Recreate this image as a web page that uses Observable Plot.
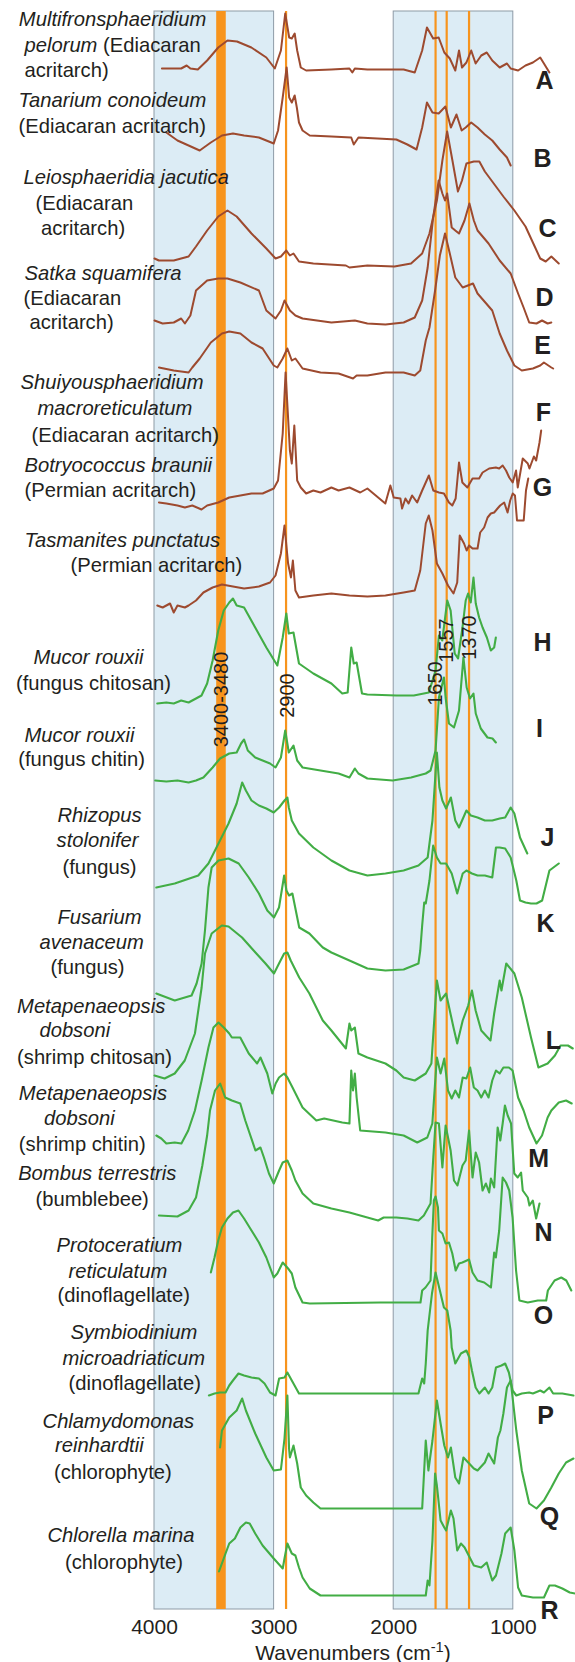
<!DOCTYPE html>
<html><head><meta charset="utf-8">
<script src="https://cdn.jsdelivr.net/npm/d3@7"></script>
<script src="https://cdn.jsdelivr.net/npm/@observablehq/plot@0.6"></script>
<style>html,body{margin:0;padding:0;background:#fff;}</style>
</head><body><div id="chart"></div>
<script>
// ---------- DATA ----------
// Each spectrum: [wavenumber (cm-1), relative absorbance]
const specA = [[3938,2],[3777,2],[3731,5],[3700,2],[3638,1],[3560,10],[3467,23],[3390,30],[3310,29],[3190,23],[3065,13],[2994,2],[2943,20],[2907,57],[2874,33],[2852,32],[2828,37],[2807,20],[2777,3],[2732,0],[2521,1],[2370,2],[2346,-2],[2325,2],[2220,1],[1917,1],[1824,-2],[1762,20],[1722,43],[1670,32],[1624,33],[1577,18],[1531,12],[1485,0],[1454,20],[1429,3],[1392,8],[1352,20],[1315,7],[1268,15],[1222,18],[1176,10],[1114,3],[1053,7],[1022,2],[960,0],[898,5],[836,8],[775,13],[744,7],[698,-2]];
const specB = [[3901,10],[3808,2],[3715,-3],[3622,-8],[3529,0],[3436,7],[3344,9],[3251,7],[3127,5],[3003,-1],[2967,12],[2928,45],[2895,75],[2874,45],[2852,40],[2828,47],[2810,35],[2792,20],[2762,12],[2702,7],[2521,6],[2355,5],[2334,-2],[2295,5],[1978,3],[1886,-2],[1809,-7],[1762,15],[1722,40],[1676,30],[1624,29],[1568,36],[1522,15],[1475,28],[1432,12],[1398,15],[1352,20],[1299,15],[1238,8],[1176,2],[1114,-7],[1053,-15],[1022,-23]];
const specC = [[4000,5],[3963,3],[3839,3],[3715,7],[3653,17],[3560,33],[3467,47],[3390,53],[3313,47],[3189,30],[3065,15],[2988,5],[2943,7],[2898,13],[2868,8],[2838,10],[2792,2],[2672,0],[2400,-2],[2370,-4],[2220,-2],[1994,-3],[1855,0],[1762,10],[1701,30],[1639,63],[1593,103],[1553,132],[1509,103],[1463,72],[1429,83],[1392,100],[1330,102],[1284,102],[1238,92],[1176,82],[1083,67],[991,53],[898,37],[821,17],[775,5],[729,2],[682,7],[620,0]];
const specD = [[4000,2],[3932,-1],[3839,0],[3777,4],[3746,-1],[3700,7],[3653,32],[3560,42],[3467,44],[3390,44],[3282,40],[3127,32],[3065,12],[2988,4],[2943,12],[2913,22],[2868,12],[2822,7],[2762,4],[2521,0],[2325,2],[2220,-1],[2069,-2],[1917,0],[1824,5],[1762,22],[1716,55],[1670,105],[1624,142],[1593,129],[1571,122],[1553,129],[1515,95],[1485,92],[1454,89],[1408,102],[1367,119],[1330,102],[1299,92],[1207,79],[1114,62],[1022,49],[960,29],[914,15],[867,0],[806,-1],[760,2],[713,-1],[682,0]];
const specE = [[3963,3],[3839,0],[3715,-2],[3684,3],[3622,12],[3529,28],[3436,37],[3375,39],[3282,37],[3189,28],[3096,22],[3003,5],[2973,3],[2928,12],[2889,22],[2852,10],[2822,12],[2762,2],[2612,-2],[2461,-3],[2340,-8],[2310,-5],[2220,-5],[2069,-2],[1917,-2],[1824,-5],[1778,0],[1732,30],[1701,43],[1654,80],[1614,115],[1571,137],[1531,117],[1485,93],[1423,83],[1337,87],[1299,77],[1176,60],[1114,37],[1053,20],[991,5],[929,0],[836,2],[775,5],[744,8],[682,3],[667,2]];
const specF = [[3963,0],[3901,-1],[3808,-3],[3746,-5],[3684,-3],[3607,-7],[3560,-3],[3467,0],[3375,5],[3282,7],[3189,9],[3096,9],[3003,14],[2967,22],[2928,69],[2904,130],[2868,52],[2852,39],[2831,77],[2807,22],[2777,15],[2732,9],[2672,12],[2612,10],[2521,15],[2461,12],[2370,15],[2280,10],[2220,14],[2130,5],[2070,-1],[2028,17],[2000,5],[1944,4],[1930,-6],[1902,4],[1876,-1],[1846,7],[1804,0],[1762,12],[1706,27],[1669,12],[1622,10],[1580,9],[1538,0],[1510,-3],[1482,4],[1454,40],[1426,20],[1384,15],[1341,24],[1286,24],[1257,30],[1202,34],[1146,35],[1118,34],[1089,37],[1061,32],[1034,25],[1005,20],[977,32],[963,15],[921,44],[879,39],[865,34],[828,46],[809,42],[781,60],[767,72]];
const specG = [[3977,-9],[3932,-11],[3870,-7],[3839,-16],[3808,-9],[3746,-11],[3715,-9],[3653,-4],[3591,4],[3514,9],[3436,12],[3344,10],[3251,8],[3127,10],[3034,14],[2988,21],[2943,43],[2913,71],[2883,33],[2859,19],[2843,36],[2822,6],[2792,-1],[2672,1],[2521,3],[2370,1],[2220,0],[2069,1],[1917,4],[1824,6],[1778,26],[1732,73],[1707,81],[1676,66],[1639,33],[1593,23],[1546,11],[1500,3],[1469,14],[1448,61],[1412,53],[1390,46],[1370,51],[1341,48],[1299,48],[1277,64],[1244,69],[1215,79],[1188,83],[1160,84],[1132,88],[1110,91],[1076,94],[1048,84],[1026,96],[1005,103],[986,101],[969,76],[913,76],[894,106],[875,118]];
const specH = [[3977,-8],[3901,-7],[3839,-8],[3777,-5],[3715,-7],[3653,-3],[3607,0],[3560,12],[3514,35],[3467,65],[3421,85],[3375,93],[3344,97],[3313,90],[3251,88],[3158,68],[3065,48],[2973,30],[2928,58],[2898,82],[2877,62],[2838,63],[2792,32],[2672,22],[2521,12],[2430,2],[2385,3],[2355,48],[2334,32],[2310,33],[2265,2],[2220,1],[1978,0],[1832,0],[1706,3],[1650,25],[1622,60],[1594,55],[1552,95],[1524,85],[1490,42],[1462,37],[1425,68],[1398,95],[1378,102],[1356,93],[1333,118],[1314,92],[1286,78],[1257,68],[1221,58],[1188,45],[1160,48],[1146,58]];
const specI = [[3994,0],[3901,-1],[3808,0],[3715,-2],[3653,0],[3591,3],[3514,13],[3452,22],[3375,27],[3313,28],[3276,37],[3251,41],[3220,30],[3158,23],[3096,20],[3034,17],[2988,13],[2943,23],[2907,50],[2877,28],[2838,35],[2807,20],[2762,13],[2612,10],[2461,7],[2370,3],[2325,12],[2295,7],[2220,2],[2009,0],[1855,3],[1732,7],[1692,10],[1650,30],[1622,83],[1580,103],[1566,83],[1538,57],[1496,53],[1454,70],[1417,123],[1390,93],[1362,82],[1333,87],[1314,67],[1272,52],[1216,43],[1174,42],[1146,38]];
const specJ = [[3985,-12],[3831,-8],[3634,0],[3549,12],[3465,32],[3381,52],[3313,72],[3267,93],[3236,85],[3189,75],[3127,70],[3065,67],[3003,63],[2958,68],[2913,75],[2889,78],[2877,68],[2852,55],[2792,42],[2672,28],[2521,15],[2370,5],[2220,0],[2069,2],[1917,5],[1793,10],[1716,18],[1676,55],[1639,123],[1618,88],[1593,75],[1562,67],[1522,78],[1485,55],[1454,48],[1392,65],[1355,60],[1299,58],[1238,55],[1176,55],[1114,57],[1068,58],[1022,68],[991,62],[944,38],[883,22]];
const specK = [[3985,-23],[3831,-30],[3690,-25],[3648,-13],[3606,7],[3578,40],[3549,83],[3522,103],[3465,110],[3381,112],[3296,107],[3212,93],[3127,77],[3057,60],[3001,53],[2959,63],[2916,95],[2897,80],[2875,75],[2847,77],[2790,43],[2705,37],[2593,23],[2521,18],[2370,10],[2220,2],[2069,0],[1917,1],[1793,7],[1778,20],[1762,45],[1745,68],[1732,67],[1701,90],[1670,125],[1639,113],[1608,107],[1562,107],[1515,97],[1469,77],[1423,97],[1392,100],[1346,97],[1299,95],[1238,95],[1176,93],[1145,123],[1114,123],[1068,122],[1022,113],[975,90],[944,70],[898,68],[852,67],[806,67],[759,70],[698,100],[620,107]];
const specL = [[4000,0],[3916,-3],[3831,2],[3747,15],[3662,42],[3606,88],[3578,122],[3522,142],[3437,150],[3381,149],[3268,138],[3156,123],[3072,112],[3001,102],[2959,112],[2916,122],[2889,123],[2861,115],[2790,98],[2705,82],[2593,55],[2521,45],[2400,27],[2370,52],[2355,45],[2325,48],[2295,22],[2220,18],[2069,12],[1978,5],[1917,-2],[1824,-5],[1732,2],[1685,12],[1639,95],[1608,75],[1562,82],[1500,48],[1469,32],[1423,55],[1377,70],[1346,85],[1315,65],[1268,45],[1191,35],[1160,62],[1114,95],[1099,85],[1059,112],[991,102],[929,78],[852,38],[790,8],[713,12],[652,20],[605,30],[543,30],[503,27]];
const specM = [[3985,0],[3943,-3],[3901,-8],[3831,-7],[3775,-8],[3718,5],[3662,25],[3606,55],[3549,88],[3507,108],[3465,113],[3421,108],[3375,102],[3353,98],[3283,98],[3212,82],[3142,72],[3114,78],[3057,62],[3015,42],[2987,52],[2959,58],[2916,62],[2889,58],[2846,48],[2762,28],[2647,15],[2581,17],[2430,13],[2370,12],[2355,65],[2340,45],[2325,62],[2310,38],[2280,5],[2069,3],[1917,0],[1803,-7],[1719,-2],[1677,12],[1664,35],[1639,78],[1608,62],[1577,77],[1546,45],[1515,37],[1485,45],[1454,38],[1423,58],[1392,57],[1361,68],[1330,48],[1299,45],[1268,38],[1238,45],[1207,38],[1176,55],[1145,65],[1114,62],[1083,68],[1037,68],[1006,65],[960,38],[914,25],[867,8],[806,-8],[760,0],[713,18],[682,25],[620,33],[559,35],[512,32]];
const specN = [[3963,2],[3808,1],[3715,7],[3653,20],[3600,52],[3560,82],[3536,107],[3494,127],[3451,134],[3409,120],[3353,117],[3283,114],[3241,97],[3156,67],[3114,70],[3085,60],[3043,44],[3003,34],[2958,47],[2928,55],[2889,57],[2852,47],[2822,37],[2762,24],[2672,14],[2521,9],[2370,5],[2220,0],[2130,-3],[2084,0],[1978,0],[1886,-1],[1793,-3],[1748,2],[1692,14],[1669,60],[1650,95],[1622,94],[1593,50],[1566,92],[1524,67],[1496,37],[1467,32],[1425,52],[1398,57],[1370,87],[1341,40],[1314,65],[1286,55],[1257,27],[1229,34],[1202,25],[1187,39],[1160,30],[1131,90],[1109,77],[1089,94],[1070,112],[1047,102],[1019,94],[992,44],[963,40],[935,45],[921,27],[879,20],[865,12],[837,17],[809,-1],[781,14]];
const specO = [[3529,31],[3498,46],[3467,63],[3436,76],[3390,85],[3344,91],[3298,93],[3251,85],[3189,73],[3127,61],[3065,46],[3003,26],[2973,30],[2928,41],[2883,35],[2852,30],[2822,16],[2762,1],[2702,0],[2112,1],[1776,1],[1762,13],[1734,16],[1692,23],[1678,66],[1664,103],[1650,107],[1630,96],[1622,73],[1593,70],[1566,60],[1538,61],[1510,50],[1482,33],[1454,40],[1426,41],[1370,44],[1341,31],[1299,23],[1243,21],[1187,16],[1160,51],[1146,46],[1118,73],[1089,126],[1061,121],[1034,113],[1006,86],[977,33],[949,3],[879,1],[795,3],[725,3],[711,13],[655,23],[599,26],[557,23],[515,13]];
const specP = [[3545,-2],[3498,0],[3452,1],[3406,1],[3375,8],[3344,13],[3298,20],[3251,18],[3189,16],[3127,15],[3080,10],[3034,1],[2988,-2],[2958,15],[2913,16],[2889,21],[2852,13],[2792,0],[1793,0],[1762,15],[1745,10],[1732,30],[1716,63],[1680,100],[1650,121],[1614,103],[1580,86],[1552,83],[1524,63],[1515,46],[1485,30],[1438,40],[1392,43],[1367,36],[1346,23],[1315,6],[1284,0],[1238,6],[1207,0],[1176,6],[1145,26],[1099,28],[1068,30],[1037,21],[1006,3],[975,-2],[929,0],[867,1],[836,0],[775,3],[744,1],[698,6],[667,0],[590,0],[497,-2]];
const specQ = [[3452,61],[3436,78],[3375,91],[3313,98],[3267,110],[3236,98],[3158,75],[3065,51],[3003,38],[2943,39],[2913,70],[2889,113],[2875,60],[2868,51],[2838,63],[2807,45],[2777,21],[2732,13],[2672,6],[2612,0],[1762,0],[1732,68],[1710,38],[1676,68],[1639,108],[1608,85],[1577,63],[1546,51],[1522,61],[1485,31],[1454,25],[1417,51],[1377,46],[1330,40],[1299,38],[1238,46],[1207,55],[1160,45],[1129,71],[1108,78],[1083,95],[1053,121],[1022,128],[975,78],[929,38],[867,5],[806,0],[744,8],[682,21],[620,35],[559,46],[497,50]];
const specR = [[3461,24],[3406,42],[3375,52],[3328,57],[3282,68],[3236,73],[3204,72],[3158,62],[3096,50],[3003,37],[2928,27],[2913,37],[2889,52],[2852,42],[2822,40],[2792,28],[2762,18],[2702,7],[2612,0],[1732,0],[1716,15],[1701,10],[1676,55],[1654,122],[1639,110],[1608,75],[1577,68],[1562,65],[1522,85],[1500,77],[1469,45],[1438,52],[1407,48],[1330,30],[1268,28],[1222,33],[1176,15],[1145,20],[1099,42],[1068,62],[1022,68],[991,45],[960,8],[929,0],[836,-2],[744,-2],[698,10],[652,10],[590,7],[528,3],[482,2]];

const spectra = {A: specA, B: specB, C: specC, D: specD, E: specE, F: specF, G: specG, H: specH, I: specI,
  J: specJ, K: specK, L: specL, M: specM, N: specN, O: specO, P: specP, Q: specQ, R: specR};
// vertical stacking offset of each spectrum (same units as absorbance)
const stackOffset = {A:1539, B:1467, C:1346, D:1287, E:1239, F:1107, G:1013, H:914, I:829,
  J:734, K:639, L:534, M:474, N:392, O:306, P:216, Q:101, R:14};
const fossilIds = ["A","B","C","D","E","F","G"];
const modernIds = ["H","I","J","K","L","M","N","O","P","Q","R"];

const shadedRegions = [{from: 4000, to: 3000}, {from: 2000, to: 1000}];
const chitinBand = [{from: 3480, to: 3400, label: "3400-3480"}];
const markerLines = [2900, 1650, 1557, 1370];
const xTicks = [4000, 3000, 2000, 1000];

// annotations, anchored in data space (wavenumber, stack units)
const markerLabels = [
  {label: "3400-3480", w: 3440, y: 910},
  {label: "2900", w: 2888, y: 914},
  {label: "1650", w: 1650, y: 926},
  {label: "1557", w: 1557, y: 969},
  {label: "1370", w: 1368, y: 972}
];
const letterLabels = [
  ["A",739,1529],["B",756,1451],["C",714,1381],["D",739,1312],["E",756,1264],["F",748,1197],
  ["G",756,1122],["H",756,967],["I",781,881],["J",714,772],["K",731,686],["L",664,569],
  ["M",789,451],["N",748,377],["O",748,294],["P",731,194],["Q",697,93],["R",697,-1]
];
// species labels: *...* marks italic parts
const speciesLabels = [
  ["*Multifronsphaeridium*",5134,1590],["*pelorum* (Ediacaran",5087,1564],["acritarch)",5087,1539],
  ["*Tanarium conoideum*",5137,1509],["(Ediacaran acritarch)",5137,1483],
  ["*Leiosphaeridia jacutica*",5095,1432],["(Ediacaran",4995,1406],["acritarch)",4949,1381],
  ["*Satka squamifera*",5087,1336],["(Ediacaran",5095,1311],["acritarch)",5045,1287],
  ["*Shuiyousphaeridium*",5120,1227],["*macroreticulatum*",4978,1201],["(Ediacaran acritarch)",5028,1174],
  ["*Botryococcus braunii*",5087,1144],["(Permian acritarch)",5087,1119],
  ["*Tasmanites punctatus*",5087,1069],["(Permian acritarch)",4702,1044],
  ["*Mucor rouxii*",5012,952],["(fungus chitosan)",5158,926],
  ["*Mucor rouxii*",5087,874],["(fungus chitin)",5140,850],
  ["*Rhizopus*",4811,794],["*stolonifer*",4819,769],["(fungus)",4769,742],
  ["*Fusarium*",4811,692],["*avenaceum*",4962,667],["(fungus)",4870,642],
  ["*Metapenaeopsis*",5149,603],["*dobsoni*",4962,579],["(shrimp chitosan)",5149,552],
  ["*Metapenaeopsis*",5134,516],["*dobsoni*",4924,491],["(shrimp chitin)",5134,465],
  ["*Bombus terrestris*",5140,436],["(bumblebee)",4995,410],
  ["*Protoceratium*",4819,364],["*reticulatum*",4719,338],["(dinoflagellate)",4811,314],
  ["*Symbiodinium*",4702,277],["*microadriaticum*",4769,251],["(dinoflagellate)",4719,226],
  ["*Chlamydomonas*",4936,188],["*reinhardtii*",4832,164],["(chlorophyte)",4841,137],
  ["*Chlorella marina*",4895,74],["(chlorophyte)",4748,47]
];
const axisTitle = [{text: "Wavenumbers (cm^-1^)", w: 2340, y: -44}];

// ---------- CHART ----------
const brown = "#9d4a2f", green = "#42ad45", orange = "#f7941d", ink = "#231f20";
const rows = [];
for (const [id, pts] of Object.entries(spectra)) {
  for (const [w, v] of pts) rows.push({id, w, y: stackOffset[id] + v});
}
const fossilRows = rows.filter(d => fossilIds.includes(d.id));
const modernRows = rows.filter(d => modernIds.includes(d.id));

const font = "'Liberation Sans', Arial, Helvetica, sans-serif";
const chart = Plot.plot({
  width: 575, height: 1662,
  marginLeft: 154, marginRight: 0, marginTop: 11, marginBottom: 53,
  x: {domain: [4000, 480], axis: null},
  y: {domain: [0, 1598], axis: null},
  style: {fontFamily: font, fontSize: "20px", color: ink, background: "#fff", overflow: "visible"},
  marks: [
    Plot.rect(shadedRegions, {x1: "from", x2: "to", y1: 0, y2: 1598, fill: "#dcecf5", stroke: "#8e9ba6", strokeWidth: 1}),
    Plot.rect(chitinBand, {x1: "from", x2: "to", y1: 0, y2: 1598, fill: orange}),
    Plot.ruleX(markerLines, {stroke: orange, strokeWidth: 2.2}),
    Plot.line(fossilRows, {x: "w", y: "y", z: "id", stroke: brown, strokeWidth: 2, strokeLinejoin: "round"}),
    Plot.line(modernRows, {x: "w", y: "y", z: "id", stroke: green, strokeWidth: 2.1, strokeLinejoin: "round"}),
    Plot.text(markerLabels, {x: "w", y: "y", text: "label", rotate: -90, fontSize: 20, fill: ink, textAnchor: "middle", lineAnchor: "middle"}),
    Plot.axisX({ticks: xTicks, tickSize: 0, tickPadding: 10, tickFormat: "d", fontSize: 21, fill: ink, label: null}),
    Plot.text(axisTitle, {x: "w", y: "y", text: "text", fontSize: 21, fill: ink, textAnchor: "middle", lineAnchor: "middle"}),
    Plot.text(speciesLabels, {x: d => d[1], y: d => d[2], text: d => d[0], fontSize: 20.2, fill: ink, textAnchor: "start", lineAnchor: "middle"}),
    Plot.text(letterLabels, {x: d => d[1], y: d => d[2], text: d => d[0], fontSize: 25, fontWeight: "bold", fill: ink, textAnchor: "middle", lineAnchor: "middle"})
  ]
});

// rich text: *italic* and ^superscript^
const NS = "http://www.w3.org/2000/svg";
chart.querySelectorAll("text").forEach(t => {
  const s = t.textContent;
  if (!/[*^]/.test(s)) return;
  t.textContent = "";
  let italic = false, sup = false, buf = "";
  const flush = () => {
    if (!buf) return;
    const ts = document.createElementNS(NS, "tspan");
    if (italic) ts.setAttribute("font-style", "italic");
    if (sup) { ts.setAttribute("baseline-shift", "super"); ts.setAttribute("font-size", "70%"); }
    ts.textContent = buf; t.appendChild(ts); buf = "";
  };
  for (const ch of s) {
    if (ch === "*") { flush(); italic = !italic; }
    else if (ch === "^") { flush(); sup = !sup; }
    else buf += ch;
  }
  flush();
});
document.getElementById("chart").appendChild(chart);
</script>
</body></html>
